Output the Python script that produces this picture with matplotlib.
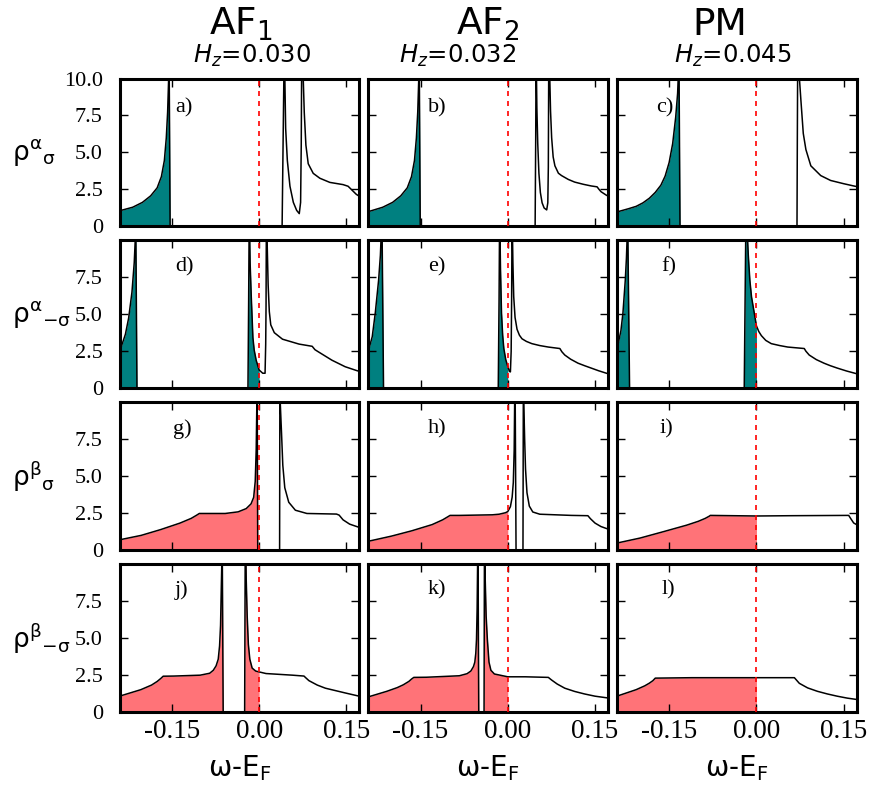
import numpy as np
import matplotlib
matplotlib.use('Agg')
import matplotlib.pyplot as plt

# Spectral densities vs. energy (w = omega - E_F) for each panel a) .. l)
# row 1: rho^alpha_sigma
w_a = [-0.240, -0.2174, -0.2006, -0.1865, -0.1753, -0.1680, -0.1629, -0.1596, -0.1573, -0.1556, -0.1548, -0.1530, 0.0, 0.0395, 0.0410, 0.0425, 0.0434, 0.0456, 0.0485, 0.0530, 0.0588, 0.0645, 0.0690, 0.0713, 0.0724, 0.0730, 0.0740, 0.0759, 0.0776, 0.0804, 0.0844, 0.0930, 0.1044, 0.1215, 0.1443, 0.1529, 0.1586, 0.1671, 0.1720]
rho_a = [1.06, 1.30, 1.63, 2.07, 2.61, 3.37, 4.46, 5.98, 7.72, 9.9, 12.0, 0.0, 0.0, 0.0, 5.0, 10.0, 12.0, 6.63, 4.46, 2.72, 1.63, 1.09, 0.87, 1.63, 5.5, 10.0, 12.0, 9.9, 7.7, 5.5, 4.24, 3.59, 3.26, 2.98, 2.83, 2.72, 2.50, 2.17, 2.05]

w_b = [-0.240, -0.2150, -0.1980, -0.1840, -0.1728, -0.1655, -0.1604, -0.1571, -0.1548, -0.1531, -0.1523, -0.1505, 0.0, 0.0470, 0.0480, 0.0487, 0.0500, 0.0515, 0.0535, 0.0560, 0.0590, 0.0625, 0.0669, 0.0688, 0.0697, 0.0703, 0.0708, 0.0722, 0.0735, 0.0754, 0.0780, 0.0810, 0.0870, 0.0924, 0.1040, 0.1150, 0.1300, 0.1433, 0.1535, 0.1570, 0.1603, 0.1688, 0.1720]
rho_b = [1.00, 1.30, 1.63, 2.07, 2.61, 3.37, 4.46, 5.98, 7.72, 9.9, 12.0, 0.0, 0.0, 0.0, 6.0, 12.0, 8.0, 5.6, 3.6, 2.3, 1.6, 1.25, 1.12, 1.6, 4.0, 10.0, 12.0, 10.0, 7.8, 6.0, 4.7, 4.1, 3.6, 3.44, 3.18, 3.00, 2.85, 2.74, 2.68, 2.50, 2.35, 2.13, 2.06]

w_c = [-0.240, -0.2200, -0.2068, -0.1950, -0.1841, -0.1740, -0.1643, -0.1570, -0.1501, -0.1440, -0.1388, -0.1355, -0.1340, -0.1333, -0.1314, 0.0, 0.0697, 0.0703, 0.0710, 0.0730, 0.0765, 0.0805, 0.0850, 0.0935, 0.1105, 0.1275, 0.1501, 0.1671, 0.1720]
rho_c = [0.98, 1.20, 1.36, 1.60, 1.91, 2.30, 2.79, 3.40, 4.32, 5.60, 7.39, 9.0, 10.5, 12.0, 0.0, 0.0, 0.0, 6.0, 12.0, 10.5, 8.49, 6.29, 5.2, 4.1, 3.44, 3.11, 2.89, 2.74, 2.70]

# row 2: rho^alpha_-sigma
w_d = [-0.240, -0.2374, -0.2299, -0.2243, -0.2186, -0.2147, -0.2130, -0.2122, -0.2100, -0.0192, -0.0180, -0.0170, -0.0155, -0.0136, -0.0107, -0.0085, -0.0051, 0.0, 0.0062, 0.0102, 0.0113, 0.0119, 0.0125, 0.0140, 0.0155, 0.0175, 0.0200, 0.0261, 0.0402, 0.0686, 0.0912, 0.0960, 0.1025, 0.1252, 0.1479, 0.1677, 0.1720]
rho_d = [2.55, 2.78, 3.66, 4.76, 6.51, 8.5, 10.0, 12.0, 0.0, 0.0, 6.0, 12.0, 8.5, 6.29, 3.44, 2.6, 1.91, 1.25, 1.03, 1.03, 3.0, 5.6, 12.0, 9.5, 7.0, 5.2, 4.3, 3.77, 3.33, 3.00, 2.85, 2.62, 2.46, 1.91, 1.47, 1.21, 1.16]

w_e = [-0.240, -0.2330, -0.2278, -0.2221, -0.2190, -0.2175, -0.2164, -0.2136, -0.0164, -0.0150, -0.0140, -0.0125, -0.0108, -0.0088, -0.0068, -0.0035, 0.0, 0.0028, 0.0045, 0.0058, 0.0066, 0.0074, 0.0088, 0.0102, 0.0125, 0.0159, 0.0200, 0.0244, 0.0320, 0.0414, 0.0550, 0.0697, 0.0895, 0.0930, 0.0980, 0.1080, 0.1207, 0.1320, 0.1433, 0.1560, 0.1720]
rho_e = [2.50, 3.50, 5.10, 7.30, 9.0, 10.5, 12.0, 0.0, 0.0, 6.0, 12.0, 8.0, 5.1, 3.6, 2.7, 1.95, 1.49, 1.16, 1.12, 2.5, 6.0, 12.0, 8.5, 6.2, 4.8, 4.0, 3.6, 3.36, 3.18, 3.03, 2.90, 2.80, 2.70, 2.48, 2.26, 1.98, 1.71, 1.54, 1.38, 1.20, 1.00]

w_f = [-0.240, -0.2330, -0.2295, -0.2255, -0.2235, -0.2222, -0.2215, -0.2181, -0.0210, -0.0195, -0.0180, -0.0164, -0.0140, -0.0113, -0.0085, -0.0057, 0.0, 0.0040, 0.0085, 0.0160, 0.0255, 0.0400, 0.0538, 0.0822, 0.0850, 0.0907, 0.1030, 0.1161, 0.1270, 0.1388, 0.1550, 0.1720]
rho_f = [2.60, 3.90, 5.10, 7.30, 8.8, 10.3, 12.0, 0.0, 0.0, 6.0, 12.0, 11.0, 9.0, 7.3, 6.2, 5.55, 4.23, 3.85, 3.57, 3.25, 3.03, 2.90, 2.80, 2.70, 2.52, 2.26, 1.95, 1.71, 1.54, 1.38, 1.18, 1.00]

# row 3: rho^beta_sigma
w_g = [-0.240, -0.2028, -0.1694, -0.1361, -0.1167, -0.1072, -0.1028, -0.0917, -0.0583, -0.0361, -0.0222, -0.0139, -0.0094, -0.0067, -0.0050, -0.0039, -0.0034, -0.0024, 0.0, 0.0352, 0.0357, 0.0363, 0.0385, 0.0407, 0.0441, 0.0509, 0.0623, 0.0821, 0.1330, 0.1375, 0.1443, 0.1556, 0.1720]
rho_g = [0.72, 1.02, 1.41, 1.85, 2.17, 2.39, 2.50, 2.50, 2.50, 2.61, 2.83, 3.15, 3.59, 4.67, 6.85, 10.0, 12.0, 0.0, 0.0, 0.0, 12.0, 10.0, 7.93, 5.76, 4.24, 3.26, 2.72, 2.50, 2.46, 2.39, 2.07, 1.78, 1.56]

w_h = [-0.240, -0.2000, -0.1650, -0.1300, -0.1120, -0.1030, -0.0992, -0.0833, -0.0266, -0.0150, -0.0040, 0.0, 0.0045, 0.0075, 0.0095, 0.0110, 0.0118, 0.0125, 0.0142, 0.0261, 0.0268, 0.0275, 0.0290, 0.0305, 0.0330, 0.0370, 0.0430, 0.0550, 0.1093, 0.1377, 0.1420, 0.1500, 0.1600, 0.1720]
rho_h = [0.62, 0.97, 1.33, 1.75, 2.07, 2.28, 2.37, 2.37, 2.41, 2.45, 2.55, 2.63, 2.96, 3.6, 4.6, 6.8, 10.0, 12.0, 0.0, 0.0, 12.0, 10.0, 7.5, 5.5, 3.9, 3.0, 2.6, 2.45, 2.37, 2.35, 2.15, 1.85, 1.62, 1.45]

w_i = [-0.240, -0.2000, -0.1600, -0.1200, -0.1000, -0.0880, -0.0810, -0.0793, 0.0, 0.0595, 0.1586, 0.1615, 0.1671, 0.1720]
rho_i = [0.50, 0.84, 1.27, 1.71, 1.97, 2.17, 2.32, 2.37, 2.33, 2.35, 2.37, 2.19, 1.86, 1.75]

# row 4: rho^beta_-sigma
w_j = [-0.240, -0.2034, -0.1850, -0.1751, -0.1690, -0.1649, -0.1467, -0.1014, -0.0850, -0.0788, -0.0740, -0.0703, -0.0680, -0.0663, -0.0650, -0.0642, -0.0635, -0.0618, -0.0249, -0.0240, -0.0232, -0.0222, -0.0205, -0.0185, -0.0160, -0.0120, -0.0060, 0.0, 0.0119, 0.0572, 0.0771, 0.0800, 0.0856, 0.1000, 0.1139, 0.1479, 0.1720]
rho_j = [1.10, 1.54, 1.85, 2.10, 2.30, 2.45, 2.46, 2.52, 2.65, 2.85, 3.15, 3.6, 4.5, 5.9, 8.5, 10.0, 12.0, 0.0, 0.0, 10.0, 12.0, 9.0, 6.5, 4.6, 3.6, 3.0, 2.8, 2.74, 2.63, 2.52, 2.46, 2.35, 2.15, 1.85, 1.64, 1.32, 1.10]

w_k = [-0.240, -0.2079, -0.1900, -0.1796, -0.1700, -0.1654, -0.1615, -0.1399, -0.0833, -0.0700, -0.0635, -0.0590, -0.0567, -0.0550, -0.0538, -0.0527, -0.0519, -0.0513, -0.0499, -0.0408, -0.0402, -0.0397, -0.0388, -0.0372, -0.0351, -0.0323, -0.0290, -0.0230, 0.0, 0.0300, 0.0697, 0.0725, 0.0754, 0.0850, 0.0980, 0.1150, 0.1320, 0.1500, 0.1720]
rho_k = [1.05, 1.43, 1.68, 1.87, 2.10, 2.26, 2.37, 2.38, 2.48, 2.62, 2.80, 3.1, 3.4, 4.0, 4.93, 7.0, 10.0, 12.0, 0.0, 0.0, 10.0, 12.0, 9.0, 6.5, 4.93, 3.4, 2.85, 2.6, 2.41, 2.41, 2.37, 2.28, 2.19, 1.92, 1.64, 1.42, 1.25, 1.10, 0.98]

w_l = [-0.240, -0.2068, -0.1920, -0.1841, -0.1780, -0.1739, -0.1105, 0.0, 0.0652, 0.0690, 0.0737, 0.0880, 0.1048, 0.1220, 0.1388, 0.1560, 0.1720]
rho_l = [1.10, 1.54, 1.80, 1.98, 2.15, 2.32, 2.35, 2.35, 2.35, 2.18, 1.97, 1.66, 1.43, 1.25, 1.10, 0.97, 0.88]

phases = ['AF$_1$', 'AF$_2$', 'PM']
fields = ['0.030', '0.032', '0.045']
row_labels = [r'$\mathregular{\rho^{\alpha}{}_{\sigma}}$',
              r'$\mathregular{\rho^{\alpha}{}_{-\sigma}}$',
              r'$\mathregular{\rho^{\beta}{}_{\sigma}}$',
              r'$\mathregular{\rho^{\beta}{}_{-\sigma}}$']
tags = ['a)', 'b)', 'c)', 'd)', 'e)', 'f)', 'g)', 'h)', 'i)', 'j)', 'k)', 'l)']
xticks = [-0.15, 0.0, 0.15]
xtick_labels = ['-0.15', '0.00', '0.15']

panels = [[(w_a, rho_a), (w_b, rho_b), (w_c, rho_c)],
          [(w_d, rho_d), (w_e, rho_e), (w_f, rho_f)],
          [(w_g, rho_g), (w_h, rho_h), (w_i, rho_i)],
          [(w_j, rho_j), (w_k, rho_k), (w_l, rho_l)]]
fill_colors = ['#008080', '#008080', '#ff7378', '#ff7378']
tag_x = [[0.231, 0.249, 0.165], [0.231, 0.249, 0.186],
         [0.223, 0.249, 0.178], [0.231, 0.249, 0.186]]
tag_y = [0.80, 0.825, 0.82, 0.83]

serif = 'Liberation Serif'

fig, axes = plt.subplots(4, 3, figsize=(8.73, 7.85), dpi=100)
fig.subplots_adjust(left=0.1369, right=0.9811, top=0.9, bottom=0.0924,
                    wspace=0.0375, hspace=0.0946)

for r in range(4):
    for c in range(3):
        ax = axes[r, c]
        w = np.array(panels[r][c][0])
        rho = np.array(panels[r][c][1])
        occ = w <= 0
        ax.fill_between(w[occ], 0, rho[occ], color=fill_colors[r], lw=0, zorder=1)
        ax.plot(w, rho, color='k', lw=1.1, zorder=2)
        ax.axvline(0, color='red', lw=1.2, dashes=(3, 3), zorder=3)
        ax.set_xlim(-0.24, 0.172)
        ax.set_ylim(0, 10)

        ax.set_xticks(xticks)
        if r == 3:
            ax.set_xticklabels(xtick_labels)
            ax.text(0.5, -0.43, 'ω-E$_\\mathregular{F}$', transform=ax.transAxes,
                    ha='center', va='baseline', fontsize=20)
        else:
            ax.set_xticklabels([])
        if r == 0:
            ax.set_yticks([0, 2.5, 5, 7.5, 10])
            ylabels = ['0', '2.5', '5.0', '7.5', '10.0']
        else:
            ax.set_yticks([0, 2.5, 5, 7.5])
            ylabels = ['0', '2.5', '5.0', '7.5']
        if c == 0:
            ax.set_yticklabels(ylabels)
            ax.set_ylabel(row_labels[r], rotation=0, ha='left', va='center', fontsize=19)
            ax.yaxis.set_label_coords(-0.448, 0.5)
        else:
            ax.set_yticklabels([])

        ax.tick_params(direction='in', top=True, right=True, length=6, width=1,
                       labelfontfamily=serif)
        ax.tick_params(axis='x', labelsize=19.5, pad=5)
        ax.tick_params(axis='y', labelsize=16, pad=12)
        for s in ax.spines.values():
            s.set_linewidth(2.2)

        ax.text(tag_x[r][c], tag_y[r], tags[3 * r + c], transform=ax.transAxes,
                fontsize=16, family=serif, va='center', ha='left')

title_x = [241, 487.5, 720]
field_x = [252.5, 457.5, 732.5]
for c in range(3):
    fig.text(title_x[c] / 873, 1 - 35 / 785, phases[c], fontsize=27,
             ha='center', va='baseline')
    fig.text(field_x[c] / 873, 1 - 63 / 785, r'$H_z$=' + fields[c], fontsize=17.5,
             ha='center', va='baseline')

fig.savefig('out.png', dpi=100)
